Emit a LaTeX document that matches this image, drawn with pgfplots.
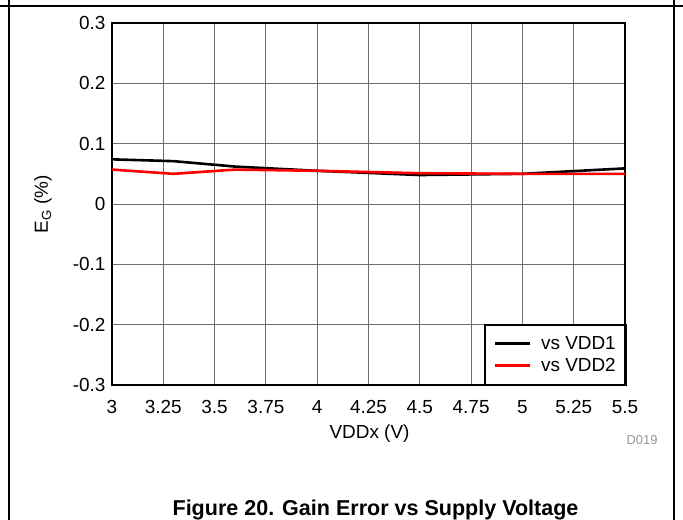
\documentclass[border=0pt]{standalone}
\usepackage{fontspec}
\setmainfont{Liberation Sans}
\usepackage{pgfplots}
\pgfplotsset{compat=1.18}
\definecolor{gridgray}{RGB}{110,110,110}
\definecolor{tagray}{RGB}{150,150,150}

\begin{document}
\begin{tikzpicture}[x=1bp,y=1bp]
\useasboundingbox (0,0) rectangle (683,520);
% frame around the figure cell
\draw[line width=1.3bp] (0,514) -- (683,514);
\draw[line width=1.3bp] (9,0) -- (9,520);
\draw[line width=1.3bp] (674,0) -- (674,520);

\begin{axis}[
    at={(112bp,135bp)},
    anchor=south west,
    scale only axis,
    width=513bp,
    height=362bp,
    xmin=3, xmax=5.5,
    ymin=-0.3, ymax=0.3,
    xtick={3,3.25,...,5.5},
    ytick={-0.3,-0.2,...,0.3},
    xticklabels={3,3.25,3.5,3.75,4,4.25,4.5,4.75,5,5.25,5.5},
    yticklabels={-0.3,-0.2,-0.1,0,0.1,0.2,0.3},
    major tick length=0pt,
    grid=major,
    grid style={gridgray, line width=0.9bp},
    axis line style={line width=2.6bp},
    tick label style={font=\fontsize{19}{22}\selectfont},
    xticklabel style={yshift=-12bp},
    yticklabel style={xshift=-3bp},
    xlabel={VDDx (V)},
    ylabel={E\textsubscript{G} (\%)},
    label style={font=\fontsize{19}{22}\selectfont},
    xlabel style={at={(axis description cs:0.502,-0.135)}, anchor=center},
    ylabel style={at={(axis description cs:-0.1345,0.5)}, anchor=center},
    legend style={at={(1.004,-0.004)}, anchor=south east, draw=black, line width=2.6bp,
        font=\fontsize{19}{22}\selectfont, row sep=3bp, column sep=8bp,
        inner xsep=8bp, inner ysep=10bp},
    legend cell align=left,
    legend image code/.code={\draw[#1, line width=3bp] (0bp,0.5bp) -- (35bp,0.5bp);},
    /pgf/number format/assume math mode=true,
]
\addplot[black, line width=2.6bp] coordinates {
    (3,0.074) (3.3,0.071) (3.6,0.062) (4,0.055) (4.5,0.048) (5,0.050) (5.5,0.059)
};
\addplot[red, line width=2.6bp] coordinates {
    (3,0.057) (3.3,0.050) (3.6,0.057) (4,0.055) (4.5,0.051) (5,0.050) (5.5,0.050)
};
\legend{vs VDD1, vs VDD2}
\end{axis}

\node[font=\fontsize{13}{15}\selectfont, text=tagray] at (642,80) {D019};
\node[font=\bfseries\fontsize{21.6}{24}\selectfont] at (375.5,10) {Figure 20. Gain Error vs Supply Voltage};
\end{tikzpicture}
\end{document}
